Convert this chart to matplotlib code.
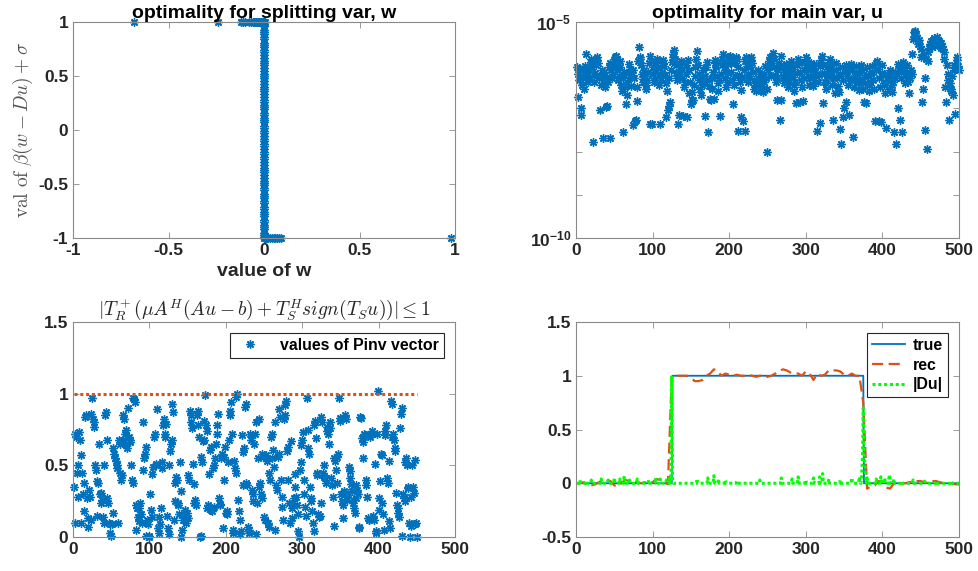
import numpy as np
import matplotlib
matplotlib.use('Agg')
import matplotlib.pyplot as plt

plt.rcParams['font.family'] = 'Liberation Sans'
plt.rcParams['font.weight'] = 'bold'
plt.rcParams['axes.unicode_minus'] = False
plt.rcParams['mathtext.fontset'] = 'custom'
plt.rcParams['mathtext.rm'] = 'Liberation Sans:bold'
plt.rcParams['mathtext.bf'] = 'Liberation Sans:bold'

blue = '#0072BD'
red = '#D95319'
green = '#00FF00'
star = (8, 2, 0)

# ---- panel 1: optimality for splitting var w ----
w_top = [-0.68, -0.24, -0.12, -0.11, -0.10, -0.08, -0.07, -0.06, -0.05, -0.045,
         -0.04, -0.035, -0.03, -0.025, -0.02, -0.015, -0.01, -0.005, 0.0, 0.005]
w_bot = [0.0, 0.005, 0.01, 0.015, 0.02, 0.03, 0.04, 0.05, 0.06, 0.07, 0.08, 0.09, 0.98]
col_y = [-0.99, -0.97, -0.95, -0.92, -0.90, -0.88, -0.85, -0.83, -0.80, -0.78, -0.76, -0.73,
         -0.71, -0.68, -0.66, -0.63, -0.61, -0.59, -0.56, -0.54, -0.51, -0.49, -0.47, -0.44,
         -0.42, -0.39, -0.37, -0.35, -0.32, -0.30, -0.27, -0.25, -0.22, -0.20, -0.18, -0.15,
         -0.13, -0.10, -0.08, -0.06, -0.03, -0.01, 0.02, 0.04, 0.07, 0.09, 0.11, 0.14, 0.16,
         0.19, 0.21, 0.23, 0.26, 0.28, 0.31, 0.33, 0.36, 0.38, 0.40, 0.43, 0.45, 0.48, 0.50,
         0.52, 0.55, 0.57, 0.60, 0.62, 0.64, 0.67, 0.69, 0.72, 0.74, 0.77, 0.79, 0.81, 0.84,
         0.86, 0.89, 0.91, 0.93, 0.96, 0.98]

# ---- panel 2: optimality for main var u (log10 of value, index 1..500) ----
u_exp = [
    -6.05, -6.74, -6.20, -6.35, -6.10, -7.00, -7.15, -6.45, -6.30, -6.55, -6.15, -6.02, -5.74, -6.10, -6.25, -6.40, -6.32, -6.12, -5.92, -5.85, -6.05, -7.78, -6.22, -6.38, -6.18,
    -6.00, -5.88, -5.80, -5.95, -6.30, -7.04, -6.45, -6.25, -6.10, -7.68, -6.15, -6.35, -6.50, -6.96, -6.28, -6.95, -6.40, -6.05, -5.95, -7.68, -6.12, -6.30, -6.20, -6.00, -5.90,
    -5.82, -5.78, -5.95, -6.10, -6.35, -6.25, -6.05, -5.90, -6.45, -6.60, -7.54, -6.30, -6.15, -6.50, -6.90, -6.70, -6.38, -6.18, -5.98, -6.08, -6.28, -6.48, -6.22, -7.39, -6.12,
    -6.30, -7.30, -7.27, -6.50, -6.83, -5.90, -5.57, -5.80, -5.85, -6.00, -6.20, -6.40, -6.32, -6.10, -6.25, -6.45, -6.55, -6.35, -6.15, -5.95, -7.35, -5.78, -5.90, -7.37, -6.05,
    -6.20, -6.40, -6.30, -6.12, -5.95, -5.85, -6.05, -6.25, -6.45, -7.36, -6.35, -6.15, -5.95, -5.88, -6.02, -6.22, -6.42, -7.20, -6.60, -7.04, -6.95, -6.30, -6.86, -6.10, -5.92,
    -5.80, -5.75, -5.65, -5.85, -6.00, -6.18, -6.35, -7.36, -7.16, -6.25, -6.05, -5.90, -6.10, -6.30, -7.18, -6.50, -6.38, -6.20, -6.00, -7.20, -5.88, -6.12, -6.65, -6.40, -6.90,
    -6.80, -6.62, -6.80, -6.45, -6.25, -6.05, -5.85, -5.66, -6.00, -6.20, -6.35, -6.55, -6.70, -6.45, -6.30, -6.10, -6.40, -7.18, -6.25, -6.05, -5.92, -7.54, -6.35, -6.48, -6.78,
    -6.80, -6.55, -6.30, -6.15, -6.78, -5.95, -5.88, -6.05, -6.25, -6.42, -6.60, -6.35, -7.18, -6.20, -6.00, -5.85, -5.75, -5.90, -6.10, -6.30, -6.50, -6.38, -6.18, -5.98, -5.82,
    -5.78, -5.95, -6.15, -6.35, -6.90, -6.45, -6.25, -5.95, -5.80, -5.85, -6.05, -7.52, -6.22, -6.40, -6.58, -7.20, -6.30, -7.30, -6.10, -5.90, -7.52, -5.80, -6.02, -6.20, -6.40,
    -6.25, -6.05, -5.88, -5.80, -5.95, -6.15, -6.35, -6.55, -6.45, -6.60, -6.50, -6.30, -6.12, -6.40, -6.55, -6.35, -6.20, -6.48, -6.62, -6.40, -6.20, -6.02, -6.30, -6.55, -8.00,
    -6.10, -5.90, -5.80, -6.00, -6.25, -5.82, -5.72, -5.85, -6.05, -6.22, -6.40, -6.80, -6.30, -6.10, -5.95, -7.28, -5.78, -6.80, -6.05, -6.25, -6.42, -6.30, -6.15, -5.98, -6.10,
    -6.32, -6.50, -6.38, -6.20, -6.02, -5.90, -6.08, -6.28, -6.45, -6.60, -6.40, -6.87, -6.18, -6.00, -5.85, -5.95, -6.86, -6.15, -6.35, -6.50, -6.84, -6.30, -6.10, -5.92, -5.80,
    -5.88, -6.05, -6.25, -6.45, -6.30, -6.12, -5.95, -6.08, -6.28, -6.48, -6.35, -6.15, -5.98, -6.20, -7.52, -6.40, -6.22, -7.33, -6.02, -5.88, -5.78, -6.87, -6.00, -6.18, -6.38,
    -6.55, -6.42, -6.25, -6.08, -5.92, -5.85, -6.02, -6.22, -6.45, -7.28, -6.30, -6.12, -6.64, -5.95, -6.10, -6.30, -6.48, -6.62, -7.48, -6.20, -7.82, -6.05, -7.20, -6.35, -7.00,
    -6.15, -6.85, -6.00, -6.25, -6.45, -7.16, -6.30, -6.12, -5.98, -6.10, -6.32, -7.66, -6.50, -6.35, -6.15, -6.02, -6.20, -6.40, -6.58, -6.38, -6.18, -6.00, -6.12, -6.32, -6.55,
    -6.86, -6.42, -6.22, -6.88, -6.05, -6.25, -6.45, -6.60, -6.40, -6.20, -6.02, -6.15, -6.35, -6.55, -7.30, -6.10, -5.95, -5.90, -6.08, -7.30, -6.30, -6.50, -7.32, -6.18, -6.00,
    -6.22, -6.45, -6.65, -6.40, -7.45, -6.20, -6.35, -6.55, -6.30, -6.10, -6.25, -6.45, -6.62, -6.38, -7.55, -6.15, -6.30, -7.82, -6.20, -6.98, -5.98, -6.12, -7.28, -6.30, -7.55,
    -6.10, -5.92, -6.05, -6.25, -6.42, -6.18, -6.00, -6.22, -6.40, -6.65, -6.30, -6.12, -5.75, -6.20, -5.40, -5.22, -5.20, -5.25, -5.30, -5.38, -5.45, -5.50, -5.42, -5.55, -5.62,
    -5.80, -6.86, -6.55, -5.75, -7.50, -6.30, -5.85, -7.95, -5.90, -5.70, -5.60, -5.52, -5.45, -5.50, -5.58, -5.42, -5.38, -5.48, -5.55, -5.40, -5.35, -5.42, -5.50, -5.45, -5.52,
    -5.60, -5.48, -5.55, -5.62, -5.70, -5.85, -6.50, -6.86, -6.00, -6.20, -6.35, -7.28, -6.42, -6.55, -6.60, -6.25, -6.68, -6.10, -6.00, -7.13, -6.05, -5.88, -5.80, -6.02, -6.10,
]

# ---- panel 3: values of Pinv vector (index 1..450) ----
pinv = [
    0.35, 0.10, 0.72, 0.70, 0.45, 0.28, 0.50, 0.73, 0.68, 0.10, 0.57, 0.45, 0.30, 0.18, 0.38, 0.84, 0.85, 0.27, 0.13, 0.07, 0.33, 0.28, 0.12, 0.86, 0.97,
    0.82, 0.80, 0.77, 0.50, 0.47, 0.39, 0.15, 0.38, 0.65, 0.30, 0.31, 0.24, 0.26, 0.14, 0.10, 0.50, 0.85, 0.87, 0.68, 0.27, 0.24, 0.10, 0.09, 0.03, 0.01,
    0.09, 0.17, 0.62, 0.58, 0.55, 0.53, 0.50, 0.48, 0.10, 0.68, 0.65, 0.45, 0.40, 0.43, 0.68, 0.85, 0.82, 0.72, 0.75, 0.64, 0.62, 0.90, 0.70, 0.66, 0.68,
    0.50, 0.40, 0.38, 0.97, 0.96, 0.94, 0.22, 0.05, 0.20, 0.14, 0.11, 0.20, 0.24, 0.16, 0.10, 0.80, 0.47, 0.55, 0.58, 0.63, 0.01, 0.12, 0.09, 0.00, 0.01,
    0.30, 0.19, 0.14, 0.44, 0.49, 0.70, 0.72, 0.51, 0.50, 0.89, 0.06, 0.03, 0.14, 0.09, 0.20, 0.48, 0.52, 0.78, 0.82, 0.70, 0.72, 0.79, 0.15, 0.06, 0.02,
    0.50, 0.60, 0.65, 0.68, 0.93, 0.87, 0.12, 0.25, 0.38, 0.42, 0.40, 0.22, 0.24, 0.16, 0.52, 0.32, 0.00, 0.05, 0.12, 0.14, 0.19, 0.15, 0.10, 0.17, 0.13,
    0.43, 0.40, 0.88, 0.85, 0.80, 0.76, 0.51, 0.37, 0.24, 0.26, 0.22, 0.85, 0.88, 0.78, 0.70, 0.00, 0.01, 0.56, 0.52, 0.67, 0.68, 0.81, 0.99, 0.78, 0.74,
    0.20, 0.22, 0.44, 0.61, 0.63, 0.19, 0.18, 0.48, 0.50, 0.21, 0.55, 0.65, 0.72, 0.78, 0.86, 0.27, 0.23, 0.22, 0.55, 0.58, 0.06, 0.40, 0.56, 0.63, 0.17,
    0.18, 0.16, 0.52, 0.68, 0.85, 0.88, 0.94, 0.72, 0.05, 0.03, 0.53, 0.48, 0.45, 0.98, 1.00, 0.26, 0.18, 0.12, 0.02, 0.04, 0.71, 0.36, 0.59, 0.62, 0.91,
    0.93, 0.38, 0.36, 0.07, 0.05, 0.03, 0.72, 0.68, 0.33, 0.30, 0.25, 0.65, 0.72, 0.02, 0.80, 0.24, 0.55, 0.82, 0.35, 0.38, 0.30, 0.27, 0.58, 0.56, 0.14,
    0.12, 0.57, 0.55, 0.53, 0.10, 0.07, 0.45, 0.40, 0.70, 0.72, 0.55, 0.61, 0.49, 0.05, 0.80, 0.36, 0.33, 0.56, 0.58, 0.89, 0.84, 0.40, 0.28, 0.21, 0.12,
    0.82, 0.85, 0.92, 0.95, 0.60, 0.63, 0.40, 0.24, 0.10, 0.67, 0.13, 0.20, 0.24, 0.27, 0.44, 0.35, 0.28, 0.22, 0.16, 0.04, 0.00, 0.47, 0.52, 0.64, 0.68,
    0.73, 0.40, 0.30, 0.21, 0.15, 0.97, 0.75, 0.62, 0.58, 0.35, 0.27, 0.25, 0.18, 0.10, 0.04, 0.78, 0.81, 0.69, 0.45, 0.43, 0.16, 0.14, 0.15, 0.24, 0.84,
    0.80, 0.45, 0.50, 0.42, 0.41, 0.38, 0.74, 0.77, 0.72, 0.65, 0.80, 0.76, 0.41, 0.36, 0.28, 0.08, 0.55, 0.53, 0.47, 0.38, 0.56, 0.58, 0.97, 0.81, 0.83,
    0.30, 0.25, 0.22, 0.13, 0.32, 0.85, 0.82, 0.29, 0.26, 0.31, 0.49, 0.46, 0.41, 0.37, 0.32, 0.26, 0.24, 0.20, 0.17, 0.27, 0.36, 0.33, 0.30, 0.07, 0.06,
    0.84, 0.83, 0.69, 0.66, 0.55, 0.72, 0.71, 0.36, 0.40, 0.28, 0.13, 0.12, 0.12, 0.70, 0.72, 0.74, 0.72, 0.15, 0.12, 0.51, 0.04, 0.03, 0.72, 1.02, 0.19,
    0.27, 0.39, 0.58, 0.57, 0.24, 0.16, 0.05, 0.71, 0.74, 0.78, 0.41, 0.38, 0.53, 0.11, 0.06, 0.95, 0.93, 0.70, 0.72, 0.68, 0.62, 0.60, 0.31, 0.22, 0.20,
    0.17, 0.14, 0.76, 0.86, 0.90, 0.01, 0.30, 0.27, 0.25, 0.52, 0.55, 0.50, 0.35, 0.34, 0.10, 0.00, 0.08, 0.28, 0.50, 0.35, 0.31, 0.54, 0.09, 0.10, 0.00,
]
bound_x = [1, 450]
bound_y = [1, 1]

# ---- panel 4: true / rec / |Du| ----
true_x = [1, 125, 126, 375, 376, 500]
true_y = [0, 0, 1, 1, 0, 0]
rec_x = list(range(0, 501, 5))
rec_y = [0.00, 0.00, 0.01, -0.02, -0.02, -0.01, 0.01, 0.03, 0.03, 0.02,
         -0.02, -0.03, 0.01, 0.03, 0.02, 0.01, 0.01, 0.00, 0.01, 0.00,
         0.01, 0.04, 0.03, 0.01, -0.01, 1.00, 1.00, 1.00, 1.00, 1.00,
         0.98, 0.95, 0.95, 0.96, 1.00, 1.02, 1.06, 1.04, 1.00, 1.02,
         1.01, 1.00, 1.01, 1.00, 1.00, 1.01, 1.00, 0.99, 1.00, 1.01,
         0.99, 1.00, 1.02, 1.04, 1.06, 1.05, 1.03, 1.03, 1.02, 1.00,
         1.04, 1.02, 0.96, 1.02, 1.00, 1.01, 1.05, 1.05, 1.05, 1.04,
         1.01, 1.00, 1.02, 1.00, 1.00, 0.75, -0.05, -0.03, -0.02, 0.02,
         0.01, -0.04, -0.05, 0.00, 0.00, 0.00, 0.00, 0.01, 0.01, 0.02,
         0.02, 0.01, 0.00, 0.02, 0.02, 0.01, 0.00, 0.00, 0.00, -0.01, -0.01]
du_idx = [5, 12, 20, 33, 42, 50, 57, 63, 70, 80, 95, 104, 110, 118, 122, 124, 125, 126,
          158, 172, 180, 186, 195, 210, 240, 268, 282, 290, 300, 310, 318, 322, 330, 345,
          360, 370, 373, 374, 375, 376, 377, 378, 380, 392, 398, 403, 409, 415, 425, 440,
          455, 470, 490]
du_val = [0.03, 0.02, 0.03, 0.04, 0.03, 0.05, 0.04, 0.07, 0.03, 0.04, 0.03, 0.05, 0.04, 0.03,
          0.05, 0.10, 1.00, 0.05, 0.04, 0.05, 0.07, 0.04, 0.03, 0.02, 0.03, 0.05, 0.04, 0.06,
          0.03, 0.05, 0.06, 0.09, 0.04, 0.03, 0.05, 0.06, 0.08, 0.25, 0.70, 0.30, 0.20, 0.10,
          0.05, 0.04, 0.06, 0.05, 0.08, 0.04, 0.02, 0.03, 0.02, 0.02, 0.02]

TICK = 12.5
TITLE = 14
LEG = 11.4
spine_c = '#8a8a8a'


def style(ax):
    for s in ax.spines.values():
        s.set_color(spine_c)
        s.set_linewidth(0.8)
    ax.tick_params(which='both', direction='in', top=True, right=True,
                   color=spine_c, labelsize=TICK, labelcolor='#262626', width=0.6)
    ax.tick_params(which='major', length=4)
    ax.tick_params(which='minor', length=4)


fig = plt.figure(figsize=(9.79, 5.71), dpi=100)
W, H = 979.0, 571.0


def axes_px(x0, y0, x1, y1):
    return fig.add_axes([x0 / W, 1 - y1 / H, (x1 - x0) / W, (y1 - y0) / H])


ax1 = axes_px(73, 22, 455, 238)
ax2 = axes_px(576, 22, 959, 238)
ax3 = axes_px(73, 322, 455, 537)
ax4 = axes_px(576, 322, 959, 537)

mk = dict(ls='none', marker=star, ms=6, mew=1.0, color=blue, clip_on=False)

# panel 1
ax1.plot(np.zeros(len(col_y)), col_y, **mk)
ax1.plot(w_top, np.ones(len(w_top)), **mk)
ax1.plot(w_bot, -np.ones(len(w_bot)), **mk)
ax1.set_xlim(-1, 1)
ax1.set_ylim(-1, 1)
ax1.set_xticks([-1, -0.5, 0, 0.5, 1])
ax1.set_xticklabels(['-1', '-0.5', '0', '0.5', '1'])
ax1.set_yticks([-1, -0.5, 0, 0.5, 1])
ax1.set_yticklabels(['-1', '-0.5', '0', '0.5', '1'])
style(ax1)
ax1.set_title('optimality for splitting var, w', fontsize=TITLE, fontweight='bold', pad=2)
ax1.set_xlabel('value of w', fontsize=TITLE, fontweight='bold', color='#262626', labelpad=4)
ax1.set_ylabel(r'$\mathrm{val\ of\ }\beta(w-Du)+\sigma$', fontsize=14, color='#555555',
               math_fontfamily='cm', labelpad=2)

# panel 2
idx = np.arange(1, len(u_exp) + 1)
ax2.plot(idx, 10.0 ** np.array(u_exp), **mk)
ax2.set_yscale('log')
ax2.set_xlim(0, 500)
ax2.set_ylim(1e-10, 1e-5)
ax2.set_xticks([0, 100, 200, 300, 400, 500])
ax2.set_yticks([1e-10, 1e-5])
ax2.set_yticklabels([r'$\mathbf{10^{-10}}$', r'$\mathbf{10^{-5}}$'])
ax2.set_yticks([1e-9, 1e-8, 1e-7, 1e-6], minor=True)
ax2.set_yticklabels([], minor=True)
style(ax2)
ax2.set_title('optimality for main var, u', fontsize=TITLE, fontweight='bold', pad=2)

# panel 3
idx3 = np.arange(1, len(pinv) + 1)
ax3.plot(idx3, pinv, label='values of Pinv vector', **mk)
ax3.plot(bound_x, bound_y, color=red, lw=2.2, ls=(0, (1, 0.9)), dash_capstyle='butt')
ax3.set_xlim(0, 500)
ax3.set_ylim(0, 1.5)
ax3.set_xticks([0, 100, 200, 300, 400, 500])
ax3.set_yticks([0, 0.5, 1, 1.5])
ax3.set_yticklabels(['0', '0.5', '1', '1.5'])
style(ax3)
ax3.set_title(r'$|T_R^+(\mu A^H(Au-b)+T_S^H sign(T_S u))| \leq 1$', fontsize=14,
              math_fontfamily='cm', color='#262626', pad=4)
leg3 = ax3.legend(loc='upper right', fontsize=LEG, frameon=True, fancybox=False,
                  framealpha=1, edgecolor='#262626', borderaxespad=0.7,
                  handlelength=2.0, handletextpad=0.9, borderpad=0.3)
leg3.get_frame().set_linewidth(0.8)

# panel 4
du = np.zeros(500)
du[np.array(du_idx) - 1] = du_val
ax4.plot(true_x, true_y, color=blue, lw=1.3, label='true')
ax4.plot(rec_x, rec_y, color=red, lw=1.6, ls=(0, (5, 2.5)), label='rec')
ax4.plot(np.arange(1, 501), du, color=green, lw=2.2, ls=(0, (1, 0.9)), label='|Du|')
ax4.set_xlim(0, 500)
ax4.set_ylim(-0.5, 1.5)
ax4.set_xticks([0, 100, 200, 300, 400, 500])
ax4.set_yticks([-0.5, 0, 0.5, 1, 1.5])
ax4.set_yticklabels(['-0.5', '0', '0.5', '1', '1.5'])
style(ax4)
leg4 = ax4.legend(loc='upper right', fontsize=LEG, frameon=True, fancybox=False,
                  framealpha=1, edgecolor='#262626', borderaxespad=0.7,
                  handlelength=2.1, handletextpad=0.5, borderpad=0.3, labelspacing=0.3)
leg4.get_frame().set_linewidth(0.8)

fig.savefig('out.png', dpi=100)
